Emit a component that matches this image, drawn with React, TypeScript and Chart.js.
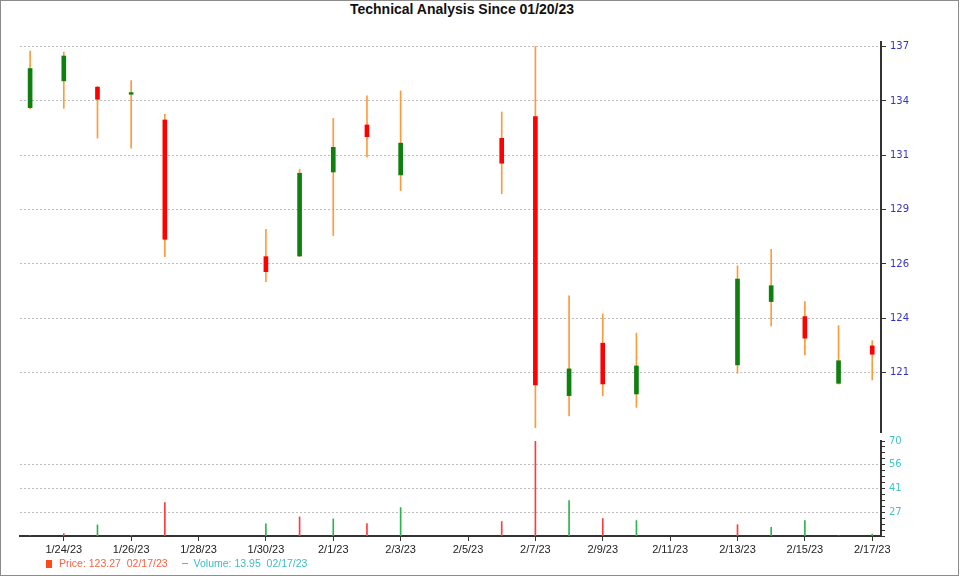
import React, { useEffect, useRef } from 'react';
import { Chart, registerables } from 'chart.js';

Chart.register(...registerables);

// ---- data ----
const dates = [
  '1/23/23', '1/24/23', '1/25/23', '1/26/23', '1/27/23',
  '1/30/23', '1/31/23', '2/1/23', '2/2/23', '2/3/23',
  '2/6/23', '2/7/23', '2/8/23', '2/9/23', '2/10/23',
  '2/13/23', '2/14/23', '2/15/23', '2/16/23', '2/17/23',
];
const opens = [
  133.68, 134.96, 134.66, 134.32, 133.09,
  126.55, 126.58, 130.60, 132.85, 130.46,
  132.21, 133.25, 119.90, 122.41, 119.98,
  121.37, 124.40, 123.68, 120.49, 122.28,
];
const highs = [
  136.39, 136.34, 134.70, 134.97, 133.36,
  127.86, 130.73, 133.17, 134.24, 134.48,
  133.47, 136.60, 124.68, 123.81, 122.89,
  126.11, 126.90, 124.40, 123.25, 122.53,
];
const lows = [
  133.62, 133.65, 132.22, 131.74, 126.55,
  125.35, 126.55, 127.56, 131.31, 129.71,
  129.56, 118.37, 118.93, 119.89, 119.34,
  120.97, 123.23, 121.85, 120.45, 120.65,
];
const closes = [
  135.55, 136.15, 134.08, 134.40, 127.38,
  125.83, 130.54, 131.78, 132.29, 131.98,
  131.02, 120.41, 121.18, 120.46, 121.32,
  125.48, 125.16, 122.65, 121.57, 121.88,
];
const volumes = [
  12.9, 14.2, 19.5, 13.1, 32.9,
  20.1, 24.3, 23.1, 20.3, 29.9,
  21.5, 70.0, 34.1, 23.3, 22.1,
  19.6, 18.0, 22.1, 12.9, 13.95,
];
const volumeUp = [
  true, false, true, true, false,
  true, false, true, false, true,
  false, false, true, false, true,
  false, true, true, true, true,
];
const xTickLabels = [
  '1/24/23', '1/26/23', '1/28/23', '1/30/23', '2/1/23', '2/3/23', '2/5/23',
  '2/7/23', '2/9/23', '2/11/23', '2/13/23', '2/15/23', '2/17/23',
];
const priceTicks = [121, 123.6, 126.2, 128.8, 131.4, 134.0, 136.6];
const priceRange = [118.16, 136.82];
const volumeMajorTicks = [27.1, 41.4, 55.7, 70];
const volumeRange = [12.8, 70];
const titleText = 'Technical Analysis Since 01/20/23';
const priceLegend = 'Price: 123.27  02/17/23';
const volumeLegend = 'Volume: 13.95  02/17/23';

// ---- helpers ----
const dayOf = (s: string) => {
  const [m, d, y] = s.split('/').map(Number);
  return (Date.UTC(2000 + y, m - 1, d) - Date.UTC(2023, 0, 20)) / 86400000;
};
const days = dates.map(dayOf);
const xTickDays = xTickLabels.map(dayOf);
const xMin = days[0] - 0.3;
const xMax = days[days.length - 1] + 0.26;

const GREEN = '#0f800f';
const RED = '#ff0000';
const WICK = '#ff9a38';

const isMajorVol = (v: number) => volumeMajorTicks.some((m) => Math.abs(m - v) < 0.01);
const noPadY = (width: number) => (s: any) => {
  s.width = width;
  s.paddingTop = 0;
  s.paddingBottom = 0;
};

export default function App() {
  const priceRef = useRef<HTMLCanvasElement>(null);
  const volRef = useRef<HTMLCanvasElement>(null);

  useEffect(() => {
    const priceChart = new Chart(priceRef.current as HTMLCanvasElement, {
      type: 'bar',
      data: {
        datasets: [
          {
            label: 'body',
            order: 0,
            data: days.map((x, i) => ({ x, y: [opens[i], closes[i]] })) as any,
            backgroundColor: closes.map((c, i) => (c >= opens[i] ? GREEN : RED)),
            barThickness: 4,
            borderWidth: 0,
            borderSkipped: false,
            grouped: false,
          } as any,
          {
            label: 'wick',
            order: 1,
            data: days.map((x, i) => ({ x, y: [lows[i], highs[i]] })) as any,
            backgroundColor: WICK,
            barThickness: 1,
            borderWidth: 0,
            borderSkipped: false,
            grouped: false,
          } as any,
        ],
      },
      options: {
        responsive: false,
        animation: false,
        layout: { padding: { left: 20, right: 0, top: 42, bottom: 4 } },
        plugins: {
          legend: { display: false },
          title: { display: false },
          tooltip: { enabled: false },
        },
        scales: {
          x: {
            type: 'linear',
            display: false,
            min: xMin,
            max: xMax,
            offset: false,
            grid: { offset: false },
          },
          y: {
            type: 'linear',
            position: 'right',
            min: priceRange[0],
            max: priceRange[1],
            afterFit: noPadY(79),
            afterBuildTicks: (s: any) => { s.ticks = priceTicks.map((v) => ({ value: v })); },
            ticks: {
              autoSkip: false,
              padding: 4,
              color: '#3434c8',
              font: { family: 'DejaVu Sans', size: 10 },
              callback: (v: any) => String(Math.round(Number(v))),
            },
            grid: {
              color: '#bdbdbd',
              lineWidth: 1,
              tickColor: '#333333',
              tickLength: 5,
              tickWidth: 1,
            },
            border: { display: true, color: '#333333', width: 2, dash: [2, 2] },
          },
        } as any,
      },
    });

    const volChart = new Chart(volRef.current as HTMLCanvasElement, {
      type: 'bar',
      data: {
        datasets: [
          {
            label: 'volume',
            data: days.map((x, i) => ({ x, y: volumes[i] })) as any,
            backgroundColor: volumeUp.map((u) => (u ? '#2eb24e' : '#ff3b3b')),
            barThickness: 1,
            borderWidth: 0,
            grouped: false,
          } as any,
        ],
      },
      options: {
        responsive: false,
        animation: false,
        layout: { padding: { left: 20, right: 0, top: 5, bottom: 0 } },
        plugins: {
          legend: { display: false },
          title: { display: false },
          tooltip: { enabled: false },
        },
        scales: {
          x: {
            type: 'linear',
            min: xMin,
            max: xMax,
            offset: false,
            afterFit: (s: any) => { s.height = 40; },
            afterBuildTicks: (s: any) => { s.ticks = xTickDays.map((v) => ({ value: v })); },
            ticks: {
              autoSkip: false,
              maxRotation: 0,
              minRotation: 0,
              padding: 2,
              color: '#222222',
              font: { family: 'Liberation Sans', size: 11 },
              callback: (v: any) => {
                const idx = xTickDays.findIndex((d) => Math.abs(d - Number(v)) < 0.01);
                return idx >= 0 ? xTickLabels[idx] : '';
              },
            },
            grid: {
              offset: false,
              drawOnChartArea: false,
              tickColor: '#333333',
              tickLength: 5,
              tickWidth: 1,
            },
            border: { display: true, color: '#333333', width: 2 },
          },
          y: {
            type: 'linear',
            position: 'right',
            min: volumeRange[0],
            max: volumeRange[1],
            afterFit: noPadY(79),
            afterBuildTicks: (s: any) => {
              const step = (volumeMajorTicks[1] - volumeMajorTicks[0]) / 4;
              const t: any[] = [];
              for (let v = volumeRange[1]; v >= volumeRange[0] - 0.001; v -= step) {
                t.push({ value: Math.round(v * 1000) / 1000 });
              }
              s.ticks = t.reverse();
            },
            ticks: {
              autoSkip: false,
              padding: 4,
              color: '#44c4c8',
              font: { family: 'DejaVu Sans', size: 10 },
              callback: (v: any) => (isMajorVol(Number(v)) ? String(Math.round(Number(v))) : ''),
            },
            grid: {
              color: (c: any) =>
                c.tick && isMajorVol(c.tick.value) && c.tick.value < volumeRange[1] - 0.5
                  ? '#bdbdbd'
                  : 'rgba(0,0,0,0)',
              lineWidth: 1,
              tickColor: '#333333',
              tickLength: 4,
              tickWidth: 1,
            },
            border: { display: true, color: '#333333', width: 2, dash: [2, 2] },
          },
        } as any,
      },
    });

    return () => {
      priceChart.destroy();
      volChart.destroy();
    };
  }, []);

  return (
    <div style={{ position: 'fixed', left: 0, top: 0, width: 960, height: 576, background: '#fff', overflow: 'hidden' }}>
      <div
        style={{
          position: 'absolute', left: 0, top: 0, width: 959, height: 576,
          boxSizing: 'border-box', border: '1px solid #8c8c8c',
        }}
      />
      <div
        style={{
          position: 'absolute', left: 262, width: 400, top: 1, textAlign: 'center',
          fontFamily: '"Liberation Sans", Arial, sans-serif', fontWeight: 'bold', fontSize: 14,
          lineHeight: '17px', color: '#111',
        }}
      >
        {titleText}
      </div>
      <canvas ref={priceRef} width={960} height={436} style={{ position: 'absolute', left: 0, top: 0 }} />
      <canvas ref={volRef} width={960} height={140} style={{ position: 'absolute', left: 0, top: 436 }} />
      <div
        style={{
          position: 'absolute', left: 46, top: 556, height: 14, whiteSpace: 'pre',
          fontFamily: '"Liberation Sans", Arial, sans-serif', fontSize: 10.5, lineHeight: '14px',
        }}
      >
        <span style={{ display: 'inline-block', width: 6, height: 8, background: '#ff4a1a', verticalAlign: '-1px', marginRight: 7 }} />
        <span style={{ color: '#ff6040' }}>{priceLegend}</span>
        <span style={{ display: 'inline-block', width: 6, height: 1.5, background: '#44c4c8', verticalAlign: '3px', marginLeft: 14, marginRight: 6 }} />
        <span style={{ color: '#3cbcc4' }}>{volumeLegend}</span>
      </div>
    </div>
  );
}
